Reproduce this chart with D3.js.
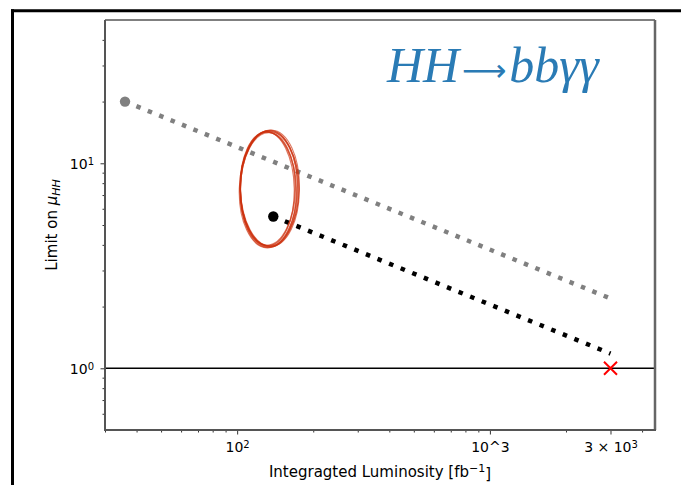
<!DOCTYPE html>
<html>
<head>
<meta charset="utf-8">
<script src="https://cdn.jsdelivr.net/npm/d3@7"></script>
<style>
  body { margin: 0; background: #fff; }
</style>
</head>
<body>
<div id="chart"></div>
<script>
// values
const run1Lumi = [36, 3000];
const run1Limit = [20, 2.19];
const run2Lumi = [139, 3000];
const run2Limit = [5.5, 1.18];
const targetLumi = [3000];
const targetLimit = [1];
const ringCenter = [134, 7.5];

const xMajorTicks = [100, 1000, 3000];
const xTickLabels = [["10", "2"], ["10^3", ""], ["3 × 10", "3"]];
const xMinorTicks = [30, 40, 50, 60, 70, 80, 90, 200, 300, 400, 500, 600, 700, 800, 900, 2000, 4000];
const yMajorTicks = [1, 10];
const yTickLabels = [["10", "0"], ["10", "1"]];
const yMinorTicks = [0.6, 0.7, 0.8, 0.9, 2, 3, 4, 5, 6, 7, 8, 9, 20, 30, 40];

const W = 681, H = 485;
const margin = {left: 105, right: 26, top: 20, bottom: 55};
const sans = "DejaVu Sans, sans-serif";

const svg = d3.select("#chart").append("svg")
    .attr("width", W)
    .attr("height", H);

// outer frame (top + left only are visible)
svg.append("line").attr("x1", 11).attr("x2", W).attr("y1", 10.8).attr("y2", 10.8)
    .attr("stroke", "#000").attr("stroke-width", 3);
svg.append("line").attr("x1", 12.5).attr("x2", 12.5).attr("y1", 9.3).attr("y2", H)
    .attr("stroke", "#000").attr("stroke-width", 3);

const x = d3.scaleLog()
    .domain([30, 4500])
    .range([margin.left, W - margin.right]);
const y = d3.scaleLog()
    .domain([0.5, 50])
    .range([H - margin.bottom, margin.top]);

const x0 = margin.left, x1 = W - margin.right;
const y0 = H - margin.bottom, y1 = margin.top;

function supLabel(sel, labels) {
    sel.each(function(d, i) {
        const t = d3.select(this);
        t.text(labels[i][0]);
        if (labels[i][1]) {
            t.append("tspan").attr("dy", "-0.45em").style("font-size", "10px").text(labels[i][1]);
        }
    });
}

// x axis
const xMinor = svg.append("g").attr("transform", `translate(0,${y0})`)
    .call(d3.axisBottom(x).tickValues(xMinorTicks).tickSize(2.5).tickFormat(""));
const xMajor = svg.append("g").attr("transform", `translate(0,${y0})`)
    .call(d3.axisBottom(x).tickValues(xMajorTicks).tickSize(4.5).tickPadding(8).tickFormat(""));
[xMinor, xMajor].forEach(g => {
    g.select(".domain").remove();
    g.selectAll("line").attr("stroke", "#333").attr("stroke-width", 1);
});
supLabel(xMajor.selectAll(".tick text")
    .attr("fill", "#000").style("font-family", sans).style("font-size", "14px"), xTickLabels);

// y axis
const yMinor = svg.append("g").attr("transform", `translate(${x0},0)`)
    .call(d3.axisLeft(y).tickValues(yMinorTicks).tickSize(2.5).tickFormat(""));
const yMajor = svg.append("g").attr("transform", `translate(${x0},0)`)
    .call(d3.axisLeft(y).tickValues(yMajorTicks).tickSize(4.5).tickPadding(6.5).tickFormat(""));
[yMinor, yMajor].forEach(g => {
    g.select(".domain").remove();
    g.selectAll("line").attr("stroke", "#333").attr("stroke-width", 1);
});
supLabel(yMajor.selectAll(".tick text")
    .attr("fill", "#000").attr("dy", "0.38em").style("font-family", sans).style("font-size", "14px"), yTickLabels);

// axis titles
const xt = svg.append("text")
    .attr("x", (x0 + x1) / 2).attr("y", 477)
    .attr("text-anchor", "middle")
    .style("font-family", sans).style("font-size", "15px")
    .text("Integragted Luminosity [fb");
xt.append("tspan").attr("dy", "-0.45em").style("font-size", "11px").text("−1");
xt.append("tspan").attr("dy", "0.45em").text("]");

const yt = svg.append("text")
    .attr("transform", `translate(57,${(y0 + y1) / 2}) rotate(-90)`)
    .attr("text-anchor", "middle")
    .style("font-family", sans).style("font-size", "15px")
    .text("Limit on ");
yt.append("tspan").style("font-style", "italic").text("μ");
yt.append("tspan").attr("dy", "0.3em").style("font-size", "11px").style("font-style", "italic").text("HH");

// reference line at mu = 1
svg.append("line")
    .attr("x1", x0).attr("x2", x1)
    .attr("y1", y(1)).attr("y2", y(1))
    .attr("stroke", "#000").attr("stroke-width", 1.5);

const line = d3.line().x(d => x(d[0])).y(d => y(d[1]));

// dotted projections
svg.append("path")
    .attr("d", line(d3.zip(run1Lumi, run1Limit)))
    .attr("fill", "none").attr("stroke", "#808080")
    .attr("stroke-width", 4.5).attr("stroke-dasharray", "4.5,7.8");
svg.append("path")
    .attr("d", line(d3.zip(run2Lumi, run2Limit)))
    .attr("fill", "none").attr("stroke", "#000")
    .attr("stroke-width", 4.5).attr("stroke-dasharray", "4.5,8");

svg.append("circle").attr("cx", x(run1Lumi[0])).attr("cy", y(run1Limit[0]))
    .attr("r", 5.2).attr("fill", "#808080");
svg.append("circle").attr("cx", x(run2Lumi[0])).attr("cy", y(run2Limit[0]))
    .attr("r", 5.2).attr("fill", "#000");

// target marker
svg.selectAll(".target")
    .data(d3.zip(targetLumi, targetLimit))
    .enter().append("path")
    .attr("class", "target")
    .attr("transform", d => `translate(${x(d[0])},${y(d[1])})`)
    .attr("d", "M-6.5,-6.5L6.5,6.5M-6.5,6.5L6.5,-6.5")
    .attr("stroke", "#f00").attr("stroke-width", 2);

// hand-drawn ring
const ring = svg.append("g")
    .attr("transform", `translate(${x(ringCenter[0])},${y(ringCenter[1])})`)
    .attr("fill", "none").attr("stroke", "#cc300c");
[[29, 58, 0, 1.8, 0], [28, 57, -2, 1.4, -1], [30, 59, 2, 1.1, 0], [27.5, 56.5, 1, 1.5, -1.5],
 [29.5, 57.5, -1, 1.0, 0.5], [28.5, 58.5, 1.5, 1.2, -0.5], [27, 57, -1, 1.2, -2]]
    .forEach(([rx, ry, rot, sw, dx]) => {
        ring.append("ellipse")
            .attr("rx", rx).attr("ry", ry)
            .attr("transform", `translate(${dx},0) rotate(${rot})`)
            .attr("stroke-width", sw).attr("opacity", 0.65);
    });

// spines
svg.append("line").attr("x1", x0).attr("x2", x1).attr("y1", y1).attr("y2", y1)
    .attr("stroke", "#000").attr("stroke-width", 1);
svg.append("line").attr("x1", x0).attr("x2", x0).attr("y1", y1).attr("y2", y0)
    .attr("stroke", "#555").attr("stroke-width", 2);
svg.append("line").attr("x1", x1).attr("x2", x1).attr("y1", y1).attr("y2", y0)
    .attr("stroke", "#666").attr("stroke-width", 2.5);
svg.append("line").attr("x1", x0 - 1).attr("x2", x1 + 1).attr("y1", y0).attr("y2", y0)
    .attr("stroke", "#555").attr("stroke-width", 2);

// title: HH -> bb gamma gamma
const serif = "Liberation Serif, serif";
const titleColor = "#2a7bb5";
const t1 = svg.append("text").attr("x", 387).attr("y", 82)
    .style("font-family", serif).style("font-style", "italic").style("font-size", "50px")
    .attr("fill", titleColor).text("HH");
const hhEnd = 387 + t1.node().getComputedTextLength();
svg.append("text")
    .attr("x", hhEnd + 25).attr("y", 81)
    .attr("text-anchor", "middle")
    .style("font-family", "DejaVu Sans, sans-serif").style("font-size", "31px")
    .attr("fill", titleColor).text("⟶");
svg.append("text").attr("x", hhEnd + 50).attr("y", 82)
    .style("font-family", serif).style("font-style", "italic").style("font-size", "50px")
    .attr("fill", titleColor).text("bbγγ");
</script>
</body>
</html>
